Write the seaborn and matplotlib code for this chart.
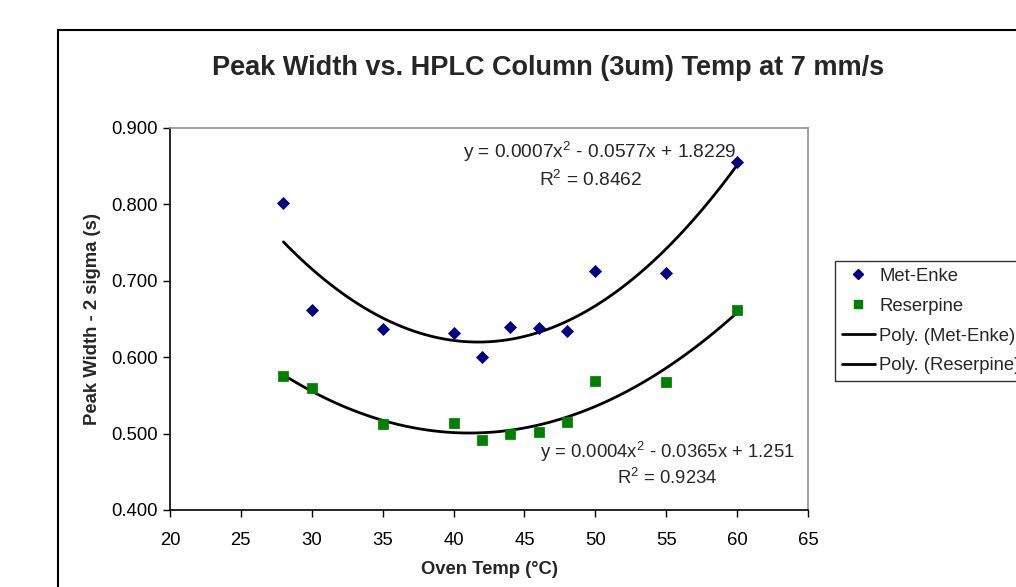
import numpy as np
import pandas as pd
import matplotlib
matplotlib.use('Agg')
import matplotlib.pyplot as plt
from matplotlib.lines import Line2D
from matplotlib.patches import Rectangle
from matplotlib.ticker import FormatStrFormatter, MultipleLocator
import seaborn as sns

# data
temps = [28, 30, 35, 40, 42, 44, 46, 48, 50, 55, 60]
met_enke = [0.802, 0.662, 0.637, 0.632, 0.600, 0.640, 0.638, 0.634, 0.713, 0.710, 0.855]
reserpine = [0.575, 0.560, 0.512, 0.514, 0.492, 0.500, 0.502, 0.515, 0.569, 0.568, 0.662]
eq_met = ['y = 0.0007x$^2$ - 0.0577x + 1.8229', 'R$^2$ = 0.8462']
eq_res = ['y = 0.0004x$^2$ - 0.0365x + 1.251', 'R$^2$ = 0.9234']

df = pd.DataFrame({'temp': temps, 'Met-Enke': met_enke, 'Reserpine': reserpine})

sns.set_style('white')
plt.rcParams['font.family'] = ['Liberation Sans', 'DejaVu Sans']
plt.rcParams['mathtext.fontset'] = 'custom'
plt.rcParams['mathtext.rm'] = 'Liberation Sans'
plt.rcParams['mathtext.it'] = 'Liberation Sans'

navy = '#000080'
green = '#008000'
fs = 13.3

fig = plt.figure(figsize=(10.16, 5.87), dpi=100)
ax = fig.add_axes([0.1673, 0.1312, 0.628, 0.6508])

# outer chart frame (runs off the right/bottom edge)
fig.patches.append(Rectangle((0.057, -0.2), 1.2, 1.149, transform=fig.transFigure,
                             fill=False, edgecolor='black', linewidth=1.5))

sns.regplot(data=df, x='temp', y='Met-Enke', order=2, ci=None, scatter=False, ax=ax,
            line_kws=dict(color='black', lw=2))
sns.regplot(data=df, x='temp', y='Reserpine', order=2, ci=None, scatter=False, ax=ax,
            line_kws=dict(color='black', lw=2))
sns.scatterplot(data=df, x='temp', y='Met-Enke', marker='D', color=navy, s=38,
                edgecolor=navy, ax=ax, zorder=3)
sns.scatterplot(data=df, x='temp', y='Reserpine', marker='s', color=green, s=45,
                edgecolor=green, ax=ax, zorder=3)

ax.set_xlim(20, 65)
ax.set_ylim(0.4, 0.9)
ax.xaxis.set_major_locator(MultipleLocator(5))
ax.yaxis.set_major_locator(MultipleLocator(0.1))
ax.yaxis.set_major_formatter(FormatStrFormatter('%.3f'))
ax.tick_params(direction='out', length=5, width=1, labelsize=fs, colors='black',
               left=True, bottom=True)
ax.tick_params(axis='x', pad=10.5)
ax.tick_params(axis='y', pad=4)

for side in ['left', 'bottom']:
    ax.spines[side].set_color('black')
    ax.spines[side].set_linewidth(1.2)
for side in ['top', 'right']:
    ax.spines[side].set_color('#909090')
    ax.spines[side].set_linewidth(1.2)

ax.set_xlabel('Oven Temp (°C)', fontsize=fs, fontweight='bold', labelpad=9)
ax.set_ylabel('Peak Width - 2 sigma (s)', fontsize=fs, fontweight='bold', labelpad=7)

fig.text(0.539, 0.884, 'Peak Width vs. HPLC Column (3um) Temp at 7 mm/s',
         ha='center', va='center', fontsize=19.5, fontweight='bold')

ax.text(50.3, 0.8686, eq_met[0], ha='center', va='center', fontsize=fs + 0.5)
ax.text(49.7, 0.832, eq_met[1], ha='center', va='center', fontsize=fs + 0.5)
ax.text(55.1, 0.476, eq_res[0], ha='center', va='center', fontsize=fs)
ax.text(55.1, 0.442, eq_res[1], ha='center', va='center', fontsize=fs)

handles = [
    Line2D([], [], ls='none', marker='D', color=navy, markersize=5),
    Line2D([], [], ls='none', marker='s', color=green, markersize=6),
    Line2D([], [], color='black', lw=2),
    Line2D([], [], color='black', lw=2),
]
labels = ['Met-Enke', 'Reserpine', 'Poly. (Met-Enke)', 'Poly. (Reserpine)']
fig.legend(handles, labels, loc='upper left', bbox_to_anchor=(0.822, 0.555),
           borderaxespad=0, frameon=True, fancybox=False, edgecolor='black',
           fontsize=fs, handlelength=1.8, handletextpad=0.25, labelspacing=0.7,
           borderpad=0.35)

fig.savefig('out.png', dpi=100)
